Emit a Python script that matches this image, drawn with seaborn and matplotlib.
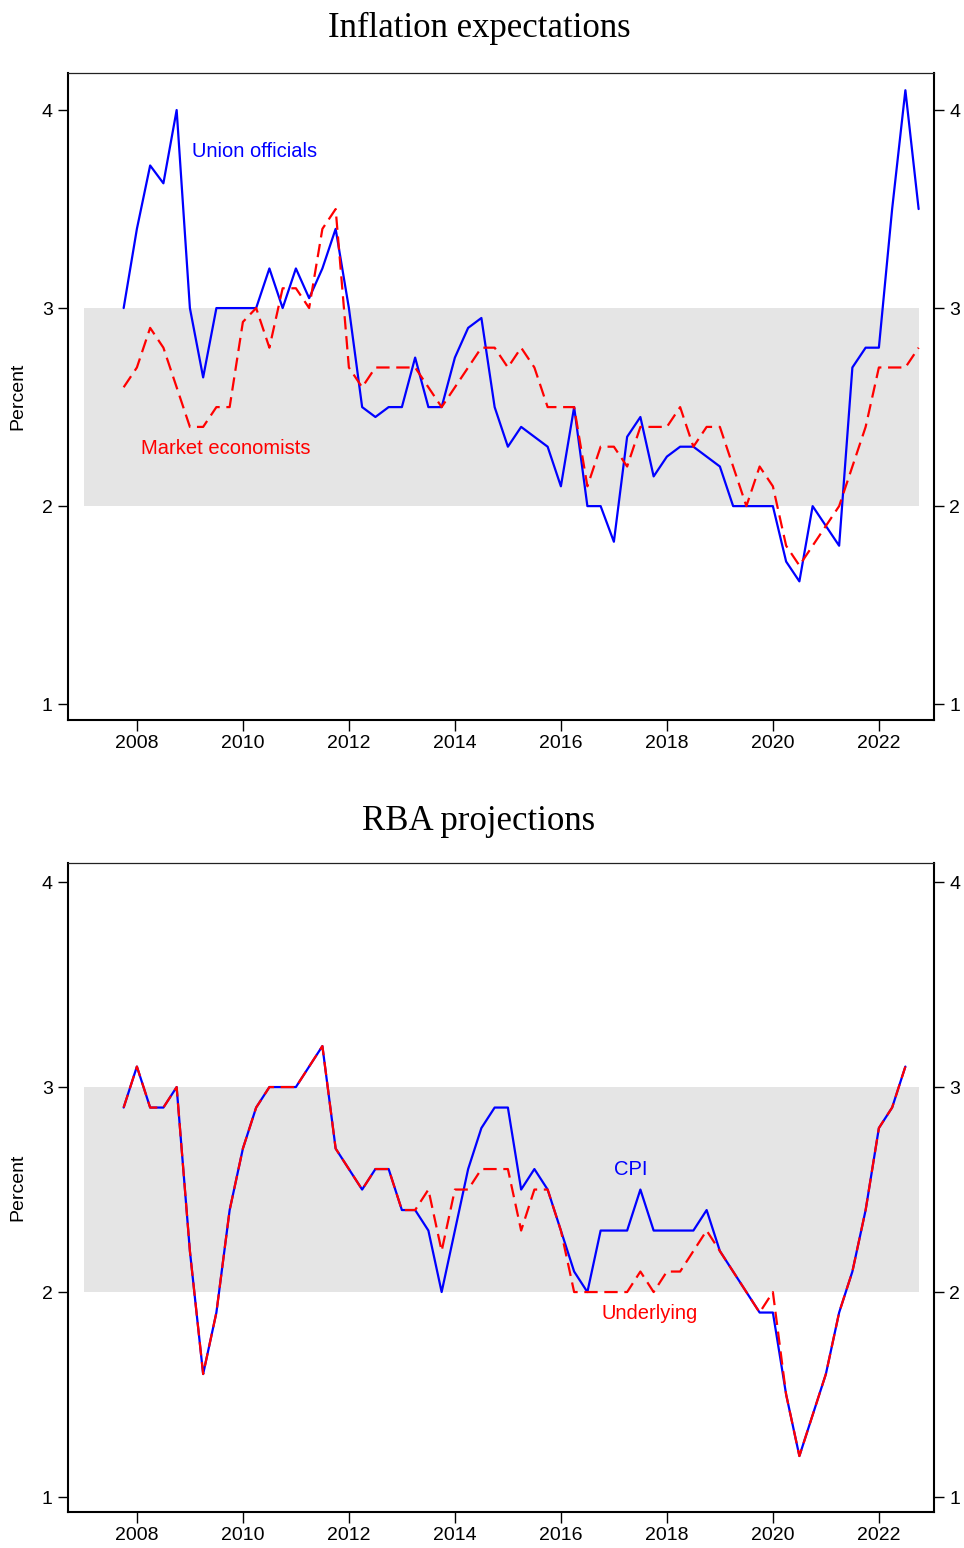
import numpy as np
import pandas as pd
import matplotlib
matplotlib.use('Agg')
import matplotlib.pyplot as plt
import seaborn as sns

# quarterly data, first obs 2007Q4
START_TOP = '2007Q4'
union_officials = [3.0, 3.4, 3.72, 3.63, 4.0, 3.0, 2.65, 3.0, 3.0, 3.0, 3.0, 3.2, 3.0, 3.2, 3.05, 3.2,
                   3.4, 3.0, 2.5, 2.45, 2.5, 2.5, 2.75, 2.5, 2.5, 2.75, 2.9, 2.95, 2.5, 2.3, 2.4, 2.35,
                   2.3, 2.1, 2.5, 2.0, 2.0, 1.82, 2.35, 2.45, 2.15, 2.25, 2.3, 2.3, 2.25, 2.2, 2.0, 2.0,
                   2.0, 2.0, 1.72, 1.62, 2.0, 1.9, 1.8, 2.7, 2.8, 2.8, 3.5, 4.1, 3.5]
market_economists = [2.6, 2.7, 2.9, 2.8, 2.6, 2.4, 2.4, 2.5, 2.5, 2.93, 3.0, 2.8, 3.1, 3.1, 3.0, 3.4,
                     3.5, 2.7, 2.6, 2.7, 2.7, 2.7, 2.7, 2.6, 2.5, 2.6, 2.7, 2.8, 2.8, 2.7, 2.8, 2.7,
                     2.5, 2.5, 2.5, 2.1, 2.3, 2.3, 2.2, 2.4, 2.4, 2.4, 2.5, 2.3, 2.4, 2.4, 2.2, 2.0,
                     2.2, 2.1, 1.8, 1.7, 1.8, 1.9, 2.0, 2.2, 2.4, 2.7, 2.7, 2.7, 2.8]
cpi = [2.9, 3.1, 2.9, 2.9, 3.0, 2.2, 1.6, 1.9, 2.4, 2.7, 2.9, 3.0, 3.0, 3.0, 3.1, 3.2,
       2.7, 2.6, 2.5, 2.6, 2.6, 2.4, 2.4, 2.3, 2.0, 2.3, 2.6, 2.8, 2.9, 2.9, 2.5, 2.6,
       2.5, 2.3, 2.1, 2.0, 2.3, 2.3, 2.3, 2.5, 2.3, 2.3, 2.3, 2.3, 2.4, 2.2, 2.1, 2.0,
       1.9, 1.9, 1.5, 1.2, 1.4, 1.6, 1.9, 2.1, 2.4, 2.8, 2.9, 3.1]
underlying = [2.9, 3.1, 2.9, 2.9, 3.0, 2.2, 1.6, 1.9, 2.4, 2.7, 2.9, 3.0, 3.0, 3.0, 3.1, 3.2,
              2.7, 2.6, 2.5, 2.6, 2.6, 2.4, 2.4, 2.5, 2.2, 2.5, 2.5, 2.6, 2.6, 2.6, 2.3, 2.5,
              2.5, 2.3, 2.0, 2.0, 2.0, 2.0, 2.0, 2.1, 2.0, 2.1, 2.1, 2.2, 2.3, 2.2, 2.1, 2.0,
              1.9, 2.0, 1.5, 1.2, 1.4, 1.6, 1.9, 2.1, 2.4, 2.8, 2.9, 3.1]

# inflation target band
TARGET_LO, TARGET_HI = 2, 3
BAND_START, BAND_END = 2007.0, 2022.75
YTICKS = [1, 2, 3, 4]
XTICKS = [2008, 2010, 2012, 2014, 2016, 2018, 2020, 2022]


def qdates(start, n):
    p = pd.period_range(start, periods=n, freq='Q')
    return p.year + (p.quarter - 1) / 4


sns.set_theme(style='white')
plt.rcParams['font.family'] = ['Liberation Sans', 'DejaVu Sans']

BLUE, RED = '#0000FF', '#FF0000'
DASH = (0, (6, 3))

fig = plt.figure(figsize=(9.64, 15.48), dpi=100)
ax1 = fig.add_axes([68/964, 1-720/1548, 866/964, 647/1548])
ax2 = fig.add_axes([68/964, 1-1512/1548, 866/964, 649/1548])


def style_axes(ax, title, ylim, pad):
    ax.fill_between([BAND_START, BAND_END], TARGET_LO, TARGET_HI, color='#e5e5e5', lw=0, zorder=0)
    ax.set_xlim(2006.70, 2023.04)
    ax.set_ylim(*ylim)
    ax.set_xticks(XTICKS)
    ax.set_xticklabels([str(t) for t in XTICKS])
    ax.set_yticks(YTICKS)
    ax.tick_params(axis='both', which='both', direction='out', length=7, width=1,
                   color='black', labelsize=14, labelcolor='black')
    ax.tick_params(axis='x', bottom=True, length=8, pad=3)
    ax.tick_params(axis='y', left=True, right=True, labelright=True, pad=4)
    ax.set_ylabel('Percent', fontsize=14, color='black', labelpad=11)
    ax.set_xlabel('')
    # title centred on the figure rather than the axes
    ax.set_title(title, family='Liberation Serif', fontsize=25, pad=pad,
                 color='black', x=(479 - 68) / 866)
    for s in ['left', 'bottom', 'right']:
        ax.spines[s].set_linewidth(1.5)
        ax.spines[s].set_color('black')
    ax.spines['top'].set_linewidth(0.9)
    ax.spines['top'].set_color('#222222')
    ax.grid(False)


# top panel
sns.lineplot(x=qdates(START_TOP, len(union_officials)), y=union_officials, ax=ax1,
             color=BLUE, lw=1.6)
sns.lineplot(x=qdates(START_TOP, len(market_economists)), y=market_economists, ax=ax1,
             color=RED, lw=1.6, linestyle=DASH)
style_axes(ax1, 'Inflation expectations', (0.92, 4.187), 26)
ax1.text(2009.04, 3.79, 'Union officials', color=BLUE, fontsize=14.5, va='center')
ax1.text(2008.08, 2.29, 'Market economists', color=RED, fontsize=14.5, va='center')

# bottom panel
sns.lineplot(x=qdates(START_TOP, len(cpi)), y=cpi, ax=ax2, color=BLUE, lw=1.6)
sns.lineplot(x=qdates(START_TOP, len(underlying)), y=underlying, ax=ax2,
             color=RED, lw=1.6, linestyle=DASH)
style_axes(ax2, 'RBA projections', (0.927, 4.093), 24)
ax2.text(2017.0, 2.60, 'CPI', color=BLUE, fontsize=14.5, va='center')
ax2.text(2016.77, 1.895, 'Underlying', color=RED, fontsize=14.5, va='center')

plt.savefig('out.png', dpi=100)
